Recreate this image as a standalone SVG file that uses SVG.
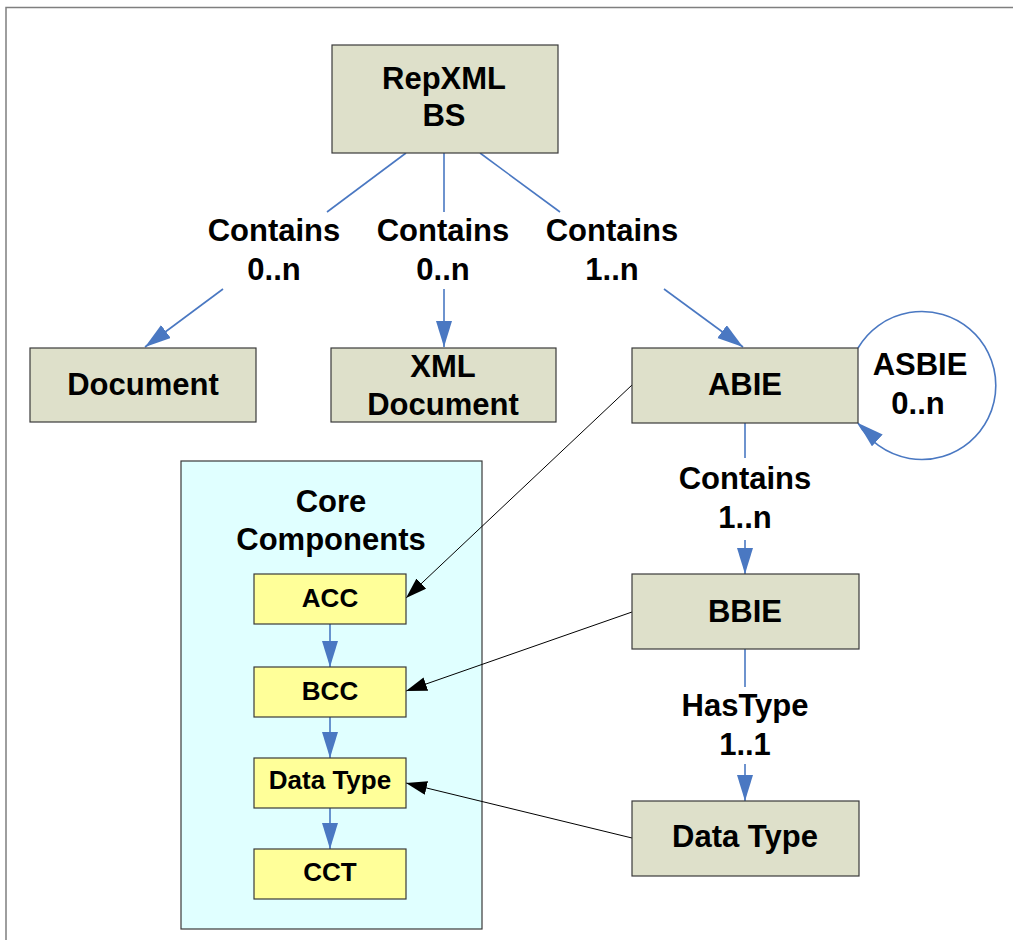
<svg xmlns="http://www.w3.org/2000/svg" width="1013" height="940" viewBox="0 0 1013 940">
<defs>
<style>
.box{fill:#dee0ca;stroke:#3a3a3a;stroke-width:1.2}
.sbox{fill:#ffff99;stroke:#3a3a3a;stroke-width:1.2}
.cont{fill:#e0ffff;stroke:#3a3a3a;stroke-width:1.2}
.t{font-family:"Liberation Sans",Arial,sans-serif;font-weight:bold;font-size:31px;fill:#000;text-anchor:middle}
.ts{font-family:"Liberation Sans",Arial,sans-serif;font-weight:bold;font-size:26px;fill:#000;text-anchor:middle}
.blue{stroke:#4a78c2;stroke-width:1.6;fill:none}
.black{stroke:#000;stroke-width:1;fill:none}
</style>
<marker id="ab" markerUnits="userSpaceOnUse" markerWidth="27" markerHeight="17" refX="26" refY="8" orient="auto">
<path d="M0,0 L26,8 L0,16 z" fill="#4a78c2"/>
</marker>
<marker id="ab-loop" markerUnits="userSpaceOnUse" markerWidth="27" markerHeight="17" refX="26" refY="8" orient="222">
<path d="M0,0 L26,8 L0,16 z" fill="#4a78c2"/>
</marker>
<marker id="ak" markerUnits="userSpaceOnUse" markerWidth="22" markerHeight="15" refX="21" refY="7" orient="auto">
<path d="M0,0 L21,7 L0,14 z" fill="#000"/>
</marker>
</defs>
<rect width="1013" height="940" fill="#fff"/>
<path d="M6 940 V7.5 H1013" fill="none" stroke="#7f7f7f" stroke-width="1.5"/>

<g id="core-components">
<rect class="cont" x="181" y="461" width="301" height="468"/>
<text class="t" x="331" y="512">Core</text>
<text class="t" x="331" y="550">Components</text>
</g>

<g id="connectors">
<line class="blue" x1="406" y1="153" x2="327" y2="212"/>
<line class="blue" x1="223" y1="289" x2="145" y2="347" marker-end="url(#ab)"/>
<line class="blue" x1="444" y1="153" x2="444" y2="212"/>
<line class="blue" x1="444" y1="289" x2="444" y2="347" marker-end="url(#ab)"/>
<line class="blue" x1="480" y1="153" x2="560" y2="212"/>
<line class="blue" x1="664" y1="289" x2="743" y2="347" marker-end="url(#ab)"/>
<path class="blue" d="M858 348 A74 74 0 1 1 858 423" marker-end="url(#ab-loop)"/>
<line class="blue" x1="745" y1="423" x2="745" y2="458"/>
<line class="blue" x1="745" y1="540" x2="745" y2="574" marker-end="url(#ab)"/>
<line class="blue" x1="745" y1="649" x2="745" y2="687"/>
<line class="blue" x1="745" y1="764" x2="745" y2="801" marker-end="url(#ab)"/>
<line class="blue" x1="330" y1="624" x2="330" y2="667" marker-end="url(#ab)"/>
<line class="blue" x1="330" y1="717" x2="330" y2="758" marker-end="url(#ab)"/>
<line class="blue" x1="330" y1="808" x2="330" y2="849" marker-end="url(#ab)"/>
<line class="black" x1="632" y1="385" x2="406" y2="598" marker-end="url(#ak)"/>
<line class="black" x1="632" y1="612" x2="406" y2="691" marker-end="url(#ak)"/>
<line class="black" x1="632" y1="838" x2="406" y2="783" marker-end="url(#ak)"/>
<text class="t" x="274" y="241">Contains</text>
<text class="t" x="274" y="280">0..n</text>
<text class="t" x="443" y="241">Contains</text>
<text class="t" x="443" y="280">0..n</text>
<text class="t" x="612" y="241">Contains</text>
<text class="t" x="612" y="280">1..n</text>
<text class="t" x="920" y="375">ASBIE</text>
<text class="t" x="918" y="414">0..n</text>
<text class="t" x="745" y="489">Contains</text>
<text class="t" x="745" y="528">1..n</text>
<text class="t" x="745" y="716">HasType</text>
<text class="t" x="745" y="755">1..1</text>
</g>

<g id="repxml-bs">
<rect class="box" x="332" y="45" width="226" height="108"/>
<text class="t" x="444" y="89">RepXML</text>
<text class="t" x="444" y="126">BS</text>
</g>
<g id="document">
<rect class="box" x="30" y="348" width="226" height="74"/>
<text class="t" x="143" y="395">Document</text>
</g>
<g id="xml-document">
<rect class="box" x="331" y="348" width="225" height="74"/>
<text class="t" x="443" y="377">XML</text>
<text class="t" x="443" y="415">Document</text>
</g>
<g id="abie">
<rect class="box" x="632" y="348" width="226" height="75"/>
<text class="t" x="745" y="395">ABIE</text>
</g>
<g id="bbie">
<rect class="box" x="632" y="574" width="227" height="75"/>
<text class="t" x="745" y="622">BBIE</text>
</g>
<g id="data-type">
<rect class="box" x="632" y="801" width="227" height="75"/>
<text class="t" x="745" y="847">Data Type</text>
</g>
<g id="acc">
<rect class="sbox" x="254" y="574" width="152" height="50"/>
<text class="ts" x="330" y="607">ACC</text>
</g>
<g id="bcc">
<rect class="sbox" x="254" y="667" width="152" height="50"/>
<text class="ts" x="330" y="700">BCC</text>
</g>
<g id="cc-data-type">
<rect class="sbox" x="254" y="758" width="152" height="50"/>
<text class="ts" x="330" y="789">Data Type</text>
</g>
<g id="cct">
<rect class="sbox" x="254" y="849" width="152" height="50"/>
<text class="ts" x="330" y="881">CCT</text>
</g>
</svg>
